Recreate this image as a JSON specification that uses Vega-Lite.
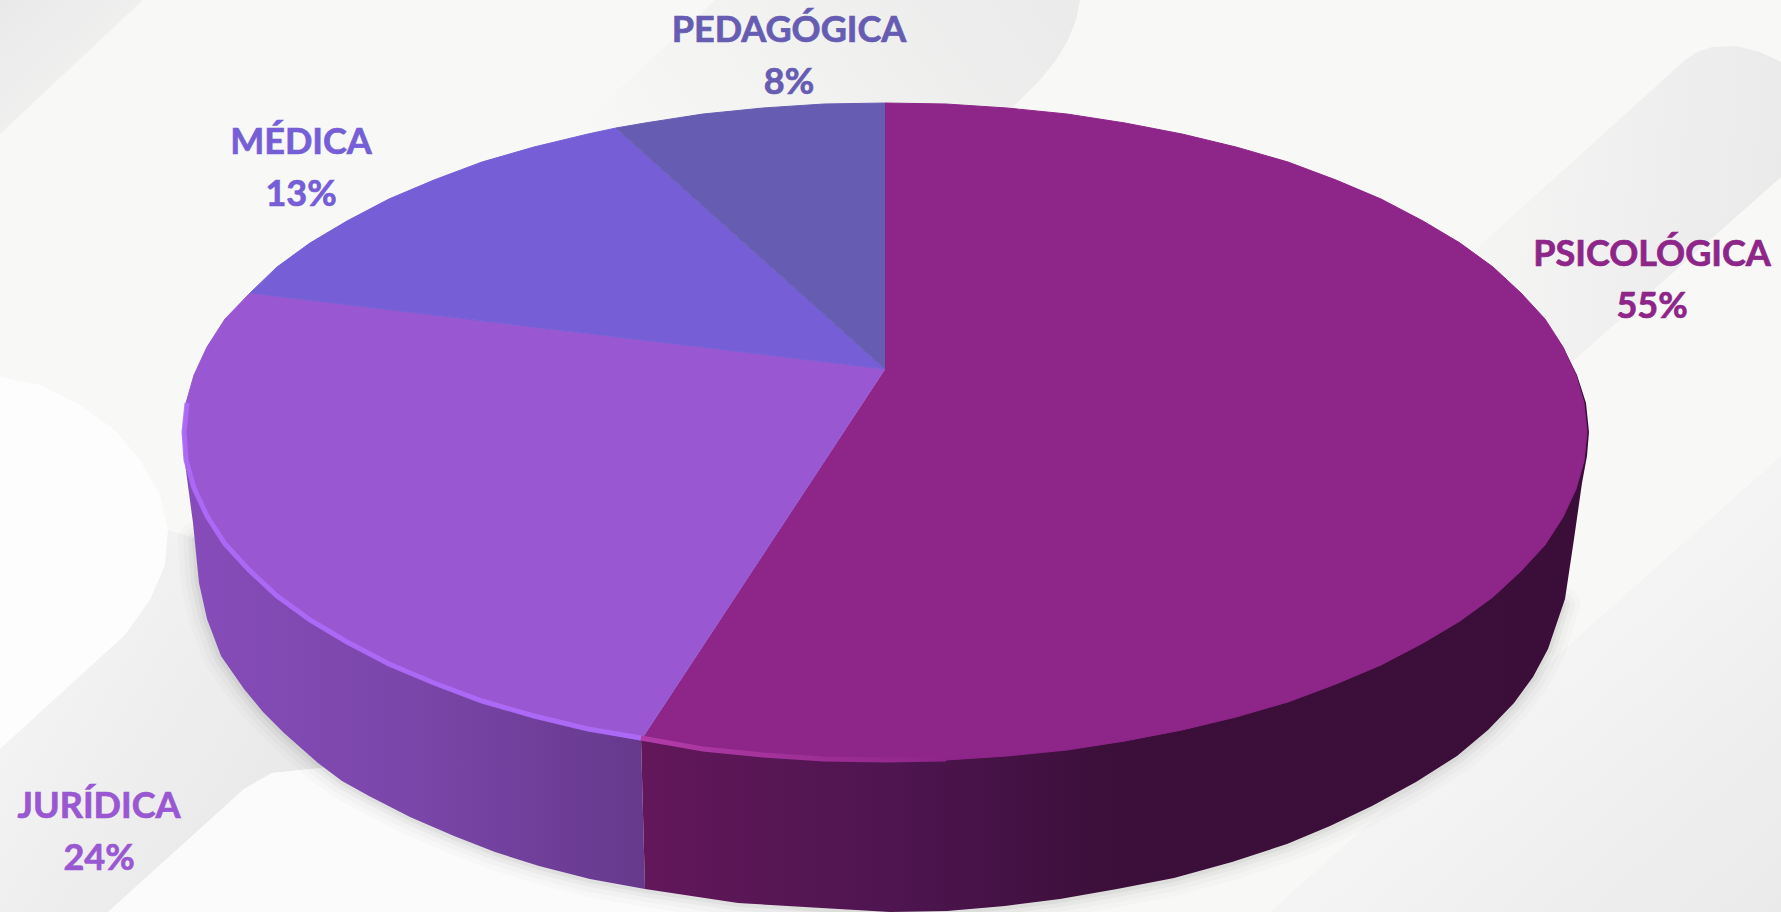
{"$schema":"https://vega.github.io/schema/vega-lite/v6.json","autosize":{"type":"none"},"padding":0,"width":1781,"height":912,"background":"#F8F8F6","config":{"view":{"stroke":null}},
"datasets":{
"labels":[
{"slice":"PSICOLÓGICA","share":"55%","x":1652,"nameY":266,"shareY":318},
{"slice":"JURÍDICA","share":"24%","x":99,"nameY":818,"shareY":870},
{"slice":"MÉDICA","share":"13%","x":301,"nameY":154,"shareY":206},
{"slice":"PEDAGÓGICA","share":"8%","x":789,"nameY":42,"shareY":94}],
"outline":[
{"part":"bg_tl","n":1,"x":0,"y":0},{"part":"bg_tl","n":2,"x":143,"y":0},{"part":"bg_tl","n":3,"x":0,"y":134},
{"part":"bg_tc","n":1,"x":567,"y":137},{"part":"bg_tc","n":2,"x":715,"y":0},{"part":"bg_tc","n":3,"x":1080,"y":0},{"part":"bg_tc","n":4,"x":1076,"y":20},{"part":"bg_tc","n":5,"x":1068,"y":40},{"part":"bg_tc","n":6,"x":1056,"y":60},{"part":"bg_tc","n":7,"x":1040,"y":80},{"part":"bg_tc","n":8,"x":1012,"y":108},{"part":"bg_tc","n":9,"x":800,"y":200},
{"part":"bg_r","n":1,"x":1475,"y":250},{"part":"bg_r","n":2,"x":1685,"y":60},{"part":"bg_r","n":3,"x":1697,"y":52},{"part":"bg_r","n":4,"x":1712,"y":47},{"part":"bg_r","n":5,"x":1736,"y":46},{"part":"bg_r","n":6,"x":1760,"y":52},{"part":"bg_r","n":7,"x":1781,"y":62},{"part":"bg_r","n":8,"x":1781,"y":177},{"part":"bg_r","n":9,"x":1571,"y":363},
{"part":"bg_br","n":1,"x":1781,"y":456},{"part":"bg_br","n":2,"x":1781,"y":912},{"part":"bg_br","n":3,"x":1270,"y":912},
{"part":"bg_gl","n":1,"x":0,"y":749},{"part":"bg_gl","n":2,"x":125,"y":635},{"part":"bg_gl","n":3,"x":150,"y":600},{"part":"bg_gl","n":4,"x":165,"y":565},{"part":"bg_gl","n":5,"x":168,"y":530},{"part":"bg_gl","n":6,"x":400,"y":600},{"part":"bg_gl","n":7,"x":330,"y":767},{"part":"bg_gl","n":8,"x":272,"y":773},{"part":"bg_gl","n":9,"x":244,"y":789},{"part":"bg_gl","n":10,"x":108,"y":912},{"part":"bg_gl","n":11,"x":0,"y":912},
{"part":"bg_wl","n":1,"x":0,"y":377},{"part":"bg_wl","n":2,"x":40,"y":385},{"part":"bg_wl","n":3,"x":80,"y":405},{"part":"bg_wl","n":4,"x":115,"y":430},{"part":"bg_wl","n":5,"x":140,"y":460},{"part":"bg_wl","n":6,"x":160,"y":495},{"part":"bg_wl","n":7,"x":168,"y":530},{"part":"bg_wl","n":8,"x":165,"y":565},{"part":"bg_wl","n":9,"x":150,"y":600},{"part":"bg_wl","n":10,"x":125,"y":635},{"part":"bg_wl","n":11,"x":0,"y":749},
{"part":"bg_wb","n":1,"x":108,"y":912},{"part":"bg_wb","n":2,"x":244,"y":789},{"part":"bg_wb","n":3,"x":272,"y":773},{"part":"bg_wb","n":4,"x":330,"y":767},{"part":"bg_wb","n":5,"x":500,"y":800},{"part":"bg_wb","n":6,"x":800,"y":912},
{"part":"shadow","n":2,"x":196,"y":540},{"part":"shadow","n":3,"x":199,"y":583},{"part":"shadow","n":4,"x":207,"y":619},{"part":"shadow","n":5,"x":221,"y":656},{"part":"shadow","n":6,"x":244,"y":689},{"part":"shadow","n":7,"x":263,"y":712},{"part":"shadow","n":8,"x":284,"y":733},{"part":"shadow","n":9,"x":318,"y":763},{"part":"shadow","n":10,"x":342,"y":781},{"part":"shadow","n":11,"x":369,"y":796},{"part":"shadow","n":12,"x":410,"y":817},{"part":"shadow","n":13,"x":454,"y":836},{"part":"shadow","n":14,"x":495,"y":852},{"part":"shadow","n":15,"x":539,"y":866},{"part":"shadow","n":16,"x":590,"y":879},{"part":"shadow","n":17,"x":645,"y":889},{"part":"shadow","n":18,"x":738,"y":903},{"part":"shadow","n":19,"x":890,"y":912},{"part":"shadow","n":20,"x":947,"y":911},{"part":"shadow","n":21,"x":1005,"y":906},{"part":"shadow","n":22,"x":1060,"y":899},{"part":"shadow","n":23,"x":1117,"y":889},{"part":"shadow","n":24,"x":1174,"y":878},{"part":"shadow","n":25,"x":1232,"y":862},{"part":"shadow","n":26,"x":1287,"y":844},{"part":"shadow","n":27,"x":1330,"y":826},{"part":"shadow","n":28,"x":1372,"y":806},{"part":"shadow","n":29,"x":1416,"y":782},{"part":"shadow","n":30,"x":1457,"y":756},{"part":"shadow","n":31,"x":1488,"y":730},{"part":"shadow","n":32,"x":1514,"y":703},{"part":"shadow","n":33,"x":1533,"y":677},{"part":"shadow","n":34,"x":1548,"y":649},{"part":"shadow","n":35,"x":1562,"y":605},
{"part":"wall_j","n":1,"x":183,"y":432},{"part":"wall_j","n":2,"x":184,"y":456},{"part":"wall_j","n":3,"x":193,"y":523},{"part":"wall_j","n":4,"x":199,"y":583},{"part":"wall_j","n":5,"x":207,"y":619},{"part":"wall_j","n":6,"x":221,"y":656},{"part":"wall_j","n":7,"x":244,"y":689},{"part":"wall_j","n":8,"x":263,"y":712},{"part":"wall_j","n":9,"x":284,"y":733},{"part":"wall_j","n":10,"x":318,"y":763},{"part":"wall_j","n":11,"x":342,"y":781},{"part":"wall_j","n":12,"x":369,"y":796},{"part":"wall_j","n":13,"x":410,"y":817},{"part":"wall_j","n":14,"x":454,"y":836},{"part":"wall_j","n":15,"x":495,"y":852},{"part":"wall_j","n":16,"x":539,"y":866},{"part":"wall_j","n":17,"x":590,"y":879},{"part":"wall_j","n":18,"x":645,"y":889},{"part":"wall_j","n":19,"x":641,"y":738},{"part":"wall_j","n":20,"x":400,"y":600},
{"part":"wall_p","n":1,"x":645,"y":889},{"part":"wall_p","n":2,"x":738,"y":903},{"part":"wall_p","n":3,"x":890,"y":912},{"part":"wall_p","n":4,"x":947,"y":911},{"part":"wall_p","n":5,"x":1005,"y":906},{"part":"wall_p","n":6,"x":1060,"y":899},{"part":"wall_p","n":7,"x":1117,"y":889},{"part":"wall_p","n":8,"x":1174,"y":878},{"part":"wall_p","n":9,"x":1232,"y":862},{"part":"wall_p","n":10,"x":1287,"y":844},{"part":"wall_p","n":11,"x":1330,"y":826},{"part":"wall_p","n":12,"x":1372,"y":806},{"part":"wall_p","n":13,"x":1416,"y":782},{"part":"wall_p","n":14,"x":1457,"y":756},{"part":"wall_p","n":15,"x":1488,"y":730},{"part":"wall_p","n":16,"x":1514,"y":703},{"part":"wall_p","n":17,"x":1533,"y":677},{"part":"wall_p","n":18,"x":1548,"y":649},{"part":"wall_p","n":19,"x":1565,"y":599},{"part":"wall_p","n":20,"x":1574,"y":539},{"part":"wall_p","n":21,"x":1582,"y":483},{"part":"wall_p","n":22,"x":1587,"y":456},{"part":"wall_p","n":23,"x":1589,"y":432},{"part":"wall_p","n":24,"x":1586,"y":403},{"part":"wall_p","n":25,"x":1577,"y":375},{"part":"wall_p","n":26,"x":1563,"y":347},{"part":"wall_p","n":27,"x":1500,"y":400},{"part":"wall_p","n":28,"x":900,"y":600},{"part":"wall_p","n":29,"x":641,"y":738},
{"part":"PSICOLÓGICA","n":0,"x":885,"y":369},{"part":"PSICOLÓGICA","n":1,"x":885,"y":103},{"part":"PSICOLÓGICA","n":2,"x":946,"y":104},{"part":"PSICOLÓGICA","n":3,"x":1007,"y":108},{"part":"PSICOLÓGICA","n":4,"x":1067,"y":114},{"part":"PSICOLÓGICA","n":5,"x":1125,"y":123},{"part":"PSICOLÓGICA","n":6,"x":1182,"y":134},{"part":"PSICOLÓGICA","n":7,"x":1236,"y":147},{"part":"PSICOLÓGICA","n":8,"x":1288,"y":162},{"part":"PSICOLÓGICA","n":9,"x":1336,"y":180},{"part":"PSICOLÓGICA","n":10,"x":1381,"y":199},{"part":"PSICOLÓGICA","n":11,"x":1423,"y":221},{"part":"PSICOLÓGICA","n":12,"x":1460,"y":243},{"part":"PSICOLÓGICA","n":13,"x":1493,"y":267},{"part":"PSICOLÓGICA","n":14,"x":1521,"y":293},{"part":"PSICOLÓGICA","n":15,"x":1545,"y":319},{"part":"PSICOLÓGICA","n":16,"x":1563,"y":347},{"part":"PSICOLÓGICA","n":17,"x":1576,"y":375},{"part":"PSICOLÓGICA","n":18,"x":1584,"y":403},{"part":"PSICOLÓGICA","n":19,"x":1587,"y":432},{"part":"PSICOLÓGICA","n":20,"x":1584,"y":461},{"part":"PSICOLÓGICA","n":21,"x":1576,"y":489},{"part":"PSICOLÓGICA","n":22,"x":1563,"y":517},{"part":"PSICOLÓGICA","n":23,"x":1545,"y":545},{"part":"PSICOLÓGICA","n":24,"x":1521,"y":571},{"part":"PSICOLÓGICA","n":25,"x":1493,"y":597},{"part":"PSICOLÓGICA","n":26,"x":1460,"y":621},{"part":"PSICOLÓGICA","n":27,"x":1423,"y":643},{"part":"PSICOLÓGICA","n":28,"x":1381,"y":665},{"part":"PSICOLÓGICA","n":29,"x":1336,"y":684},{"part":"PSICOLÓGICA","n":30,"x":1288,"y":702},{"part":"PSICOLÓGICA","n":31,"x":1236,"y":717},{"part":"PSICOLÓGICA","n":32,"x":1182,"y":730},{"part":"PSICOLÓGICA","n":33,"x":1125,"y":741},{"part":"PSICOLÓGICA","n":34,"x":1067,"y":750},{"part":"PSICOLÓGICA","n":35,"x":1007,"y":756},{"part":"PSICOLÓGICA","n":36,"x":946,"y":760},{"part":"PSICOLÓGICA","n":37,"x":885,"y":761},{"part":"PSICOLÓGICA","n":38,"x":824,"y":760},{"part":"PSICOLÓGICA","n":39,"x":763,"y":756},{"part":"PSICOLÓGICA","n":40,"x":703,"y":750},{"part":"PSICOLÓGICA","n":41,"x":641,"y":740},
{"part":"JURÍDICA","n":0,"x":885,"y":369},{"part":"JURÍDICA","n":1,"x":641,"y":740},{"part":"JURÍDICA","n":2,"x":588,"y":730},{"part":"JURÍDICA","n":3,"x":534,"y":717},{"part":"JURÍDICA","n":4,"x":482,"y":702},{"part":"JURÍDICA","n":5,"x":434,"y":684},{"part":"JURÍDICA","n":6,"x":389,"y":665},{"part":"JURÍDICA","n":7,"x":347,"y":643},{"part":"JURÍDICA","n":8,"x":310,"y":621},{"part":"JURÍDICA","n":9,"x":277,"y":597},{"part":"JURÍDICA","n":10,"x":249,"y":571},{"part":"JURÍDICA","n":11,"x":225,"y":545},{"part":"JURÍDICA","n":12,"x":207,"y":517},{"part":"JURÍDICA","n":13,"x":194,"y":489},{"part":"JURÍDICA","n":14,"x":186,"y":461},{"part":"JURÍDICA","n":15,"x":183,"y":432},{"part":"JURÍDICA","n":16,"x":186,"y":403},{"part":"JURÍDICA","n":17,"x":194,"y":375},{"part":"JURÍDICA","n":18,"x":207,"y":347},{"part":"JURÍDICA","n":19,"x":225,"y":319},{"part":"JURÍDICA","n":20,"x":250,"y":293},
{"part":"MÉDICA","n":0,"x":885,"y":369},{"part":"MÉDICA","n":1,"x":250,"y":293},{"part":"MÉDICA","n":2,"x":277,"y":267},{"part":"MÉDICA","n":3,"x":310,"y":243},{"part":"MÉDICA","n":4,"x":347,"y":221},{"part":"MÉDICA","n":5,"x":389,"y":199},{"part":"MÉDICA","n":6,"x":434,"y":180},{"part":"MÉDICA","n":7,"x":482,"y":162},{"part":"MÉDICA","n":8,"x":534,"y":147},{"part":"MÉDICA","n":9,"x":588,"y":134},{"part":"MÉDICA","n":10,"x":616,"y":128},
{"part":"PEDAGÓGICA","n":0,"x":885,"y":369},{"part":"PEDAGÓGICA","n":1,"x":616,"y":128},{"part":"PEDAGÓGICA","n":2,"x":645,"y":123},{"part":"PEDAGÓGICA","n":3,"x":703,"y":114},{"part":"PEDAGÓGICA","n":4,"x":763,"y":108},{"part":"PEDAGÓGICA","n":5,"x":824,"y":104},{"part":"PEDAGÓGICA","n":6,"x":885,"y":103},
{"part":"rim_j","n":1,"x":641,"y":738},{"part":"rim_j","n":2,"x":588,"y":729},{"part":"rim_j","n":3,"x":534,"y":716},{"part":"rim_j","n":4,"x":482,"y":701},{"part":"rim_j","n":5,"x":434,"y":683},{"part":"rim_j","n":6,"x":389,"y":664},{"part":"rim_j","n":7,"x":347,"y":642},{"part":"rim_j","n":8,"x":310,"y":620},{"part":"rim_j","n":9,"x":277,"y":596},{"part":"rim_j","n":10,"x":249,"y":570},{"part":"rim_j","n":11,"x":225,"y":544},{"part":"rim_j","n":12,"x":207,"y":516},{"part":"rim_j","n":13,"x":194,"y":488},{"part":"rim_j","n":14,"x":186,"y":460},{"part":"rim_j","n":15,"x":184,"y":432},{"part":"rim_j","n":16,"x":187,"y":403},
{"part":"rim_p","n":1,"x":641,"y":738},{"part":"rim_p","n":2,"x":703,"y":749},{"part":"rim_p","n":3,"x":763,"y":755},{"part":"rim_p","n":4,"x":824,"y":759},{"part":"rim_p","n":5,"x":885,"y":760},{"part":"rim_p","n":6,"x":946,"y":759}
]},
"data":{"name":"outline"},
"encoding":{"x":{"field":"x","type":"quantitative","axis":null,"scale":{"domain":[0,1781],"nice":false,"zero":false}},"y":{"field":"y","type":"quantitative","axis":null,"scale":{"domain":[912,0],"nice":false,"zero":false}},"order":{"field":"n","type":"quantitative"}},
"layer":[
{"transform":[{"filter":"datum.part==='bg_tl'"}],"mark":{"type":"line","stroke":null,"fill":{"gradient":"linear","x1":1,"y1":1,"x2":0,"y2":0,"stops":[{"offset":0,"color":"#F6F6F5"},{"offset":1,"color":"#E9E9E9"}]}}},
{"transform":[{"filter":"datum.part==='bg_tc'"}],"mark":{"type":"line","stroke":null,"fill":{"gradient":"linear","x1":0,"y1":0.6,"x2":1,"y2":0.3,"stops":[{"offset":0,"color":"#F8F8F6"},{"offset":1,"color":"#EBEBEB"}]}}},
{"transform":[{"filter":"datum.part==='bg_r'"}],"mark":{"type":"line","stroke":null,"fill":{"gradient":"linear","x1":0,"y1":0.5,"x2":1,"y2":0.6,"stops":[{"offset":0,"color":"#F5F5F4"},{"offset":1,"color":"#EAEAEB"}]}}},
{"transform":[{"filter":"datum.part==='bg_br'"}],"mark":{"type":"line","stroke":null,"fill":{"gradient":"linear","x1":0.5,"y1":0.5,"x2":1,"y2":1,"stops":[{"offset":0,"color":"#F5F4F4"},{"offset":1,"color":"#EAEAEA"}]}}},
{"transform":[{"filter":"datum.part==='bg_wl'"}],"mark":{"type":"line","stroke":null,"fill":"#FDFDFD"}},
{"transform":[{"filter":"datum.part==='bg_gl'"}],"mark":{"type":"line","stroke":null,"fill":{"gradient":"linear","x1":0,"y1":0,"x2":1,"y2":0.6,"stops":[{"offset":0,"color":"#F7F7F7"},{"offset":1,"color":"#E6E6E6"}]}}},
{"transform":[{"filter":"datum.part==='bg_wb'"}],"mark":{"type":"line","stroke":null,"fill":"#FBFBFB"}},
{"transform":[{"filter":"datum.part==='shadow'"}],"mark":{"type":"line","stroke":"#000000","strokeWidth":36,"opacity":0.015,"strokeCap":"round"}},
{"transform":[{"filter":"datum.part==='shadow'"}],"mark":{"type":"line","stroke":"#000000","strokeWidth":26,"opacity":0.02,"strokeCap":"round"}},
{"transform":[{"filter":"datum.part==='shadow'"}],"mark":{"type":"line","stroke":"#000000","strokeWidth":16,"opacity":0.03,"strokeCap":"round"}},
{"transform":[{"filter":"datum.part==='shadow'"}],"mark":{"type":"line","stroke":"#000000","strokeWidth":8,"opacity":0.04,"strokeCap":"round"}},
{"transform":[{"filter":"datum.part==='wall_j'"}],"mark":{"type":"line","stroke":null,"fill":{"gradient":"linear","x1":0,"y1":0,"x2":1,"y2":0,"stops":[{"offset":0,"color":"#874CBA"},{"offset":0.5,"color":"#7A46A9"},{"offset":1,"color":"#66398C"}]}}},
{"transform":[{"filter":"datum.part==='wall_p'"}],"mark":{"type":"line","stroke":null,"fill":{"gradient":"linear","x1":0,"y1":0,"x2":1,"y2":0,"stops":[{"offset":0,"color":"#62175A"},{"offset":0.27,"color":"#4E1550"},{"offset":0.5,"color":"#3B0F39"},{"offset":1,"color":"#3A0E38"}]}}},
{"transform":[{"filter":"indexof(['PSICOLÓGICA','JURÍDICA','MÉDICA','PEDAGÓGICA'],datum.part)>=0"}],"mark":{"type":"line","strokeWidth":1},"encoding":{"detail":{"field":"part"},"fill":{"field":"part","type":"nominal","legend":null,"scale":{"domain":["PSICOLÓGICA","JURÍDICA","MÉDICA","PEDAGÓGICA"],"range":["#8E2589","#9958D1","#755ED6","#665DB3"]}},"stroke":{"field":"part","type":"nominal","legend":null,"scale":{"domain":["PSICOLÓGICA","JURÍDICA","MÉDICA","PEDAGÓGICA"],"range":["#8E2589","#9958D1","#755ED6","#665DB3"]}}}},
{"transform":[{"filter":"datum.part==='rim_j'"}],"mark":{"type":"line","stroke":"#AE6CFA","strokeWidth":5,"opacity":0.9}},
{"transform":[{"filter":"datum.part==='rim_p'"}],"mark":{"type":"line","strokeWidth":5,"stroke":{"gradient":"linear","x1":0,"y1":0,"x2":1,"y2":0,"stops":[{"offset":0,"color":"#B23CA8"},{"offset":1,"color":"#8E2589"}]}}},
{"data":{"name":"labels"},"mark":{"type":"text","font":"Lato","fontWeight":"bold","fontSize":36,"align":"center","baseline":"alphabetic","strokeWidth":0.7},"encoding":{"x":{"field":"x","type":"quantitative"},"y":{"field":"nameY","type":"quantitative"},"order":{"value":null},"text":{"field":"slice"},"fill":{"field":"slice","type":"nominal","legend":null,"scale":{"domain":["PSICOLÓGICA","JURÍDICA","MÉDICA","PEDAGÓGICA"],"range":["#8E2589","#9958D1","#755ED6","#665DB3"]}},"stroke":{"field":"slice","type":"nominal","legend":null,"scale":{"domain":["PSICOLÓGICA","JURÍDICA","MÉDICA","PEDAGÓGICA"],"range":["#8E2589","#9958D1","#755ED6","#665DB3"]}}}},
{"data":{"name":"labels"},"mark":{"type":"text","font":"Lato","fontWeight":"bold","fontSize":36,"align":"center","baseline":"alphabetic","strokeWidth":0.7},"encoding":{"x":{"field":"x","type":"quantitative"},"y":{"field":"shareY","type":"quantitative"},"order":{"value":null},"text":{"field":"share"},"fill":{"field":"slice","type":"nominal","legend":null,"scale":{"domain":["PSICOLÓGICA","JURÍDICA","MÉDICA","PEDAGÓGICA"],"range":["#8E2589","#9958D1","#755ED6","#665DB3"]}},"stroke":{"field":"slice","type":"nominal","legend":null,"scale":{"domain":["PSICOLÓGICA","JURÍDICA","MÉDICA","PEDAGÓGICA"],"range":["#8E2589","#9958D1","#755ED6","#665DB3"]}}}}
]}
